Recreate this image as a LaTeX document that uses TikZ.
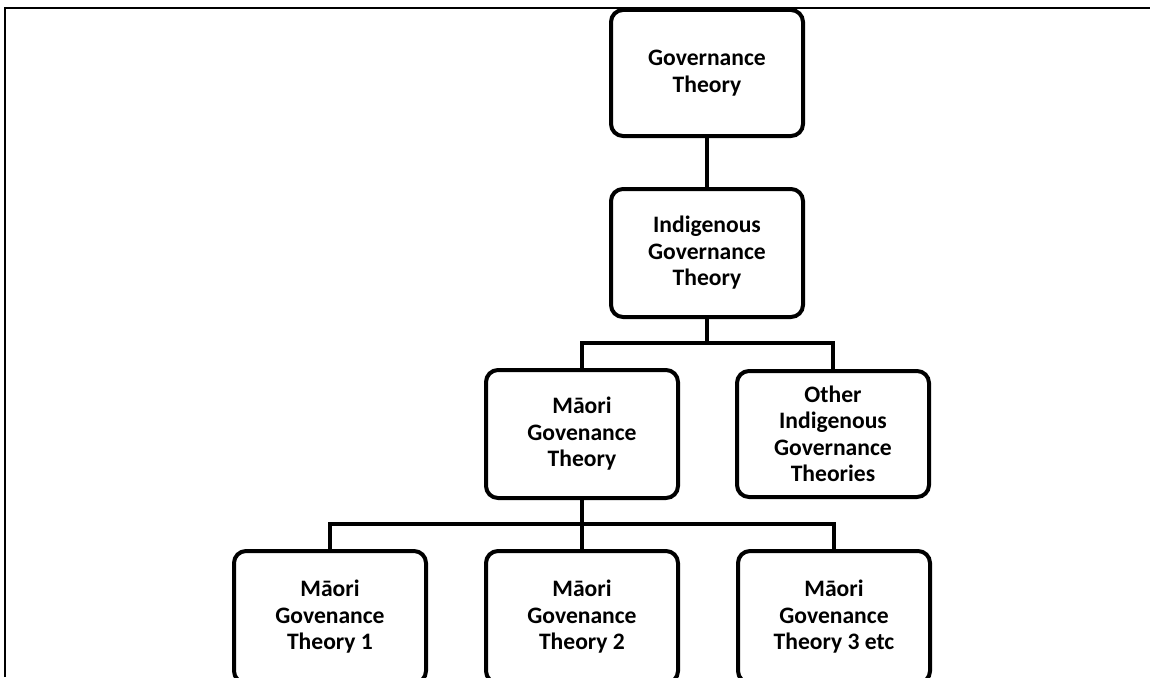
\documentclass[tikz,border=0pt]{standalone}
\usepackage{fontspec}
\setmainfont{Carlito}
\begin{document}
\begin{tikzpicture}[x=1pt,y=-1pt,
  box/.style={draw=black, line width=4pt, rounded corners=12pt, fill=white,
    minimum width=192pt, minimum height=126pt, inner sep=0pt, align=center,
    font=\fontsize{23.6}{26.5}\selectfont\bfseries},
  conn/.style={draw=black, line width=4pt, line join=miter}]
\clip (0,0) rectangle (1150,677);
\fill[white] (0,0) rectangle (1150,677);
\draw[line width=2pt] (5,677) -- (5,8) -- (1150,8);
\node[box] (gov) at (707,73) {Governance\\Theory};
\node[box, minimum height=128pt] (ind) at (707,253) {Indigenous\\Governance\\Theory};
\node[box, minimum height=128pt] (mao) at (582,434) {Māori\\Govenance\\Theory};
\node[box] (oth) at (833,434) {Other\\Indigenous\\Governance\\Theories};
\node[box, minimum height=132pt] (t1) at (330,617) {Māori\\Govenance\\Theory 1};
\node[box, minimum height=132pt] (t2) at (582,617) {Māori\\Govenance\\Theory 2};
\node[box, minimum height=132pt] (t3) at (834,617) {Māori\\Govenance\\Theory 3 etc};
\coordinate (busA) at (707,343);
\coordinate (busB) at (582,524);
\path[conn] (gov.south) -- (ind.north);
\path[conn] (ind.south) -- (busA);
\path[conn] (mao.north) |- (busA) -| (oth.north);
\path[conn] (mao.south) -- (t2.north);
\path[conn] (t1.north) |- (busB) -| (t3.north);
\end{tikzpicture}
\end{document}
